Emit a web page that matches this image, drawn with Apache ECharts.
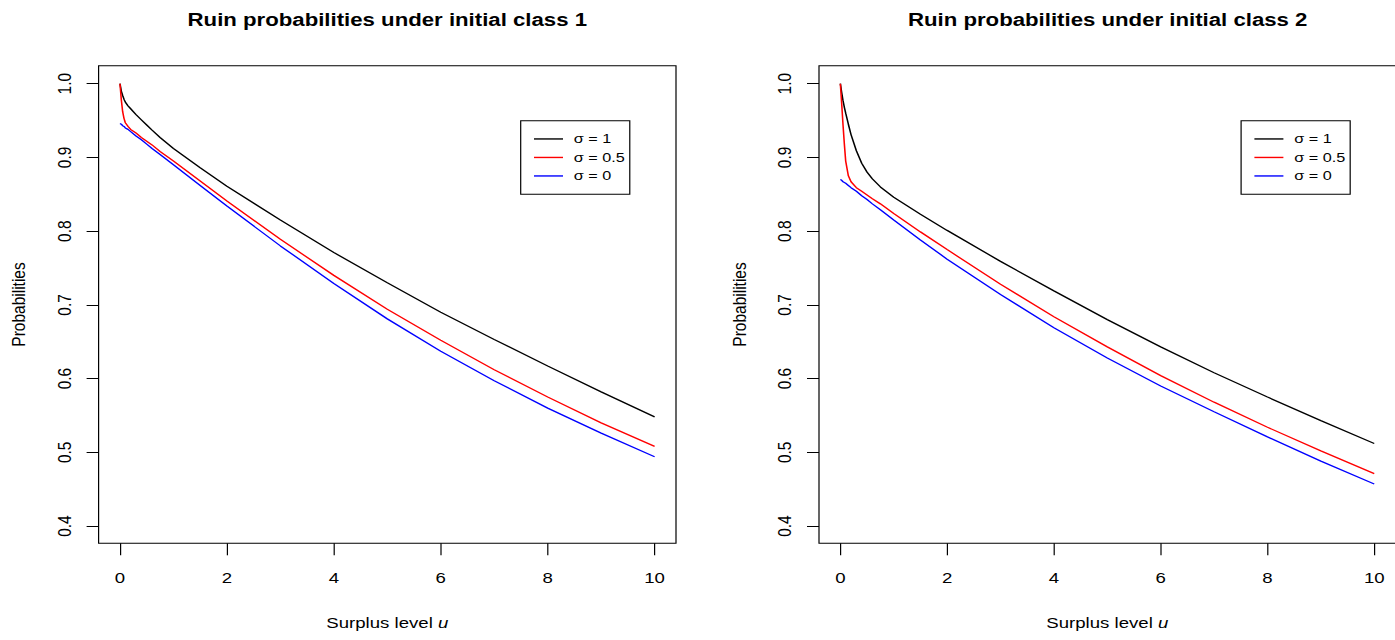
<!DOCTYPE html>
<html>
<head>
<meta charset="utf-8">
<script src="https://cdn.jsdelivr.net/npm/echarts@6/dist/echarts.min.js"></script>
<style>
  html, body { margin: 0; padding: 0; background: #fff; overflow: hidden; }
  #chart-container { height: 640px; transform-origin: 0 0; }
</style>
</head>
<body>
<div id="chart-container"></div>
<script>
// surplus levels u (shared by every curve)
var uGrid = [0, 0.025, 0.05, 0.075, 0.1, 0.15, 0.2, 0.3, 0.4, 0.5, 0.6, 0.75, 1, 1.5, 2, 3, 4, 5, 6, 7, 8, 9, 10];

// initial class 1
var class1Sigma1 = [1.000, 0.990, 0.984, 0.979, 0.975, 0.970, 0.966, 0.958, 0.951, 0.944, 0.937, 0.927, 0.912, 0.886, 0.861, 0.815, 0.771, 0.730, 0.690, 0.653, 0.617, 0.582, 0.548];
var class1Sigma05 = [1.000, 0.978, 0.962, 0.953, 0.947, 0.942, 0.938, 0.933, 0.927, 0.922, 0.917, 0.908, 0.895, 0.868, 0.841, 0.789, 0.740, 0.694, 0.652, 0.612, 0.575, 0.540, 0.508];
var class1Sigma0 = [0.946, 0.945, 0.943, 0.942, 0.940, 0.938, 0.935, 0.929, 0.924, 0.918, 0.912, 0.904, 0.890, 0.862, 0.834, 0.780, 0.729, 0.681, 0.637, 0.597, 0.560, 0.526, 0.494];

// initial class 2
var class2Sigma1 = [1.000, 0.988, 0.977, 0.968, 0.960, 0.945, 0.931, 0.909, 0.892, 0.880, 0.871, 0.860, 0.846, 0.823, 0.801, 0.759, 0.719, 0.680, 0.643, 0.608, 0.575, 0.543, 0.512];
var class2Sigma05 = [1.000, 0.973, 0.944, 0.918, 0.895, 0.875, 0.867, 0.859, 0.854, 0.849, 0.844, 0.837, 0.824, 0.799, 0.775, 0.728, 0.684, 0.643, 0.604, 0.568, 0.534, 0.502, 0.471];
var class2Sigma0 = [0.870, 0.869, 0.867, 0.866, 0.865, 0.862, 0.859, 0.854, 0.848, 0.843, 0.837, 0.829, 0.815, 0.788, 0.762, 0.714, 0.669, 0.628, 0.590, 0.555, 0.521, 0.488, 0.457];

var seriesNames = ['σ = 1', 'σ = 0.5', 'σ = 0'];
var seriesColors = ['#000000', '#ff0000', '#0000ff'];
var titles = ['Ruin probabilities under initial class 1', 'Ruin probabilities under initial class 2'];
var xTicks = [0, 2, 4, 6, 8, 10];
var yTicks = [0.4, 0.5, 0.6, 0.7, 0.8, 0.9, 1.0];

// the source picture is stretched sideways, so draw narrower and scale x
var SX = 1.2;
function px(x) { return x / SX; }

var dom = document.getElementById('chart-container');
dom.style.width = (1395 / SX) + 'px';
dom.style.transform = 'scaleX(' + SX + ')';

var myChart = echarts.init(dom, null, { renderer: 'svg' });
var FONT = '"Liberation Sans", Arial, Helvetica, sans-serif';

var panels = [
  { left: 98.6, curves: [class1Sigma1, class1Sigma05, class1Sigma0] },
  { left: 819, curves: [class2Sigma1, class2Sigma05, class2Sigma0] }
];
var plotW = 577.4;

function toPairs(vals) {
  return uGrid.map(function (u, i) { return [u, vals[i]]; });
}

var option = {
  animation: false,
  backgroundColor: '#fff',
  textStyle: { fontFamily: FONT },
  title: [],
  legend: [],
  grid: [],
  xAxis: [],
  yAxis: [],
  series: []
};

panels.forEach(function (p, k) {
  option.title.push({
    text: titles[k],
    left: px(p.left + plotW / 2),
    top: 10,
    padding: 0,
    textAlign: 'center',
    textStyle: { fontFamily: FONT, fontSize: 18.5, fontWeight: 'bold', color: '#000' }
  });
  option.grid.push({
    left: px(p.left), top: 65.7, width: px(plotW), height: 477.6,
    show: true, borderColor: '#000', borderWidth: 1, containLabel: false
  });
  option.legend.push({
    left: px(p.left + 422.1),
    top: 120.7,
    orient: 'vertical',
    data: seriesNames,
    icon: 'rect',
    itemWidth: px(29),
    itemHeight: 1.4,
    itemGap: 0,
    padding: [9, px(5), 9, px(13.3)],
    borderColor: '#000',
    borderWidth: 1,
    borderRadius: 0,
    selectedMode: false,
    textStyle: { fontFamily: FONT, fontSize: 13.5, color: '#000', lineHeight: 18.5, padding: [0, 0, 0, 4] }
  });
  option.xAxis.push({
    type: 'value',
    gridIndex: k,
    min: -0.4,
    max: 10.4,
    name: '{n|Surplus level }{i|u}',
    nameLocation: 'middle',
    nameGap: 72,
    nameTextStyle: {
      fontFamily: FONT, fontSize: 15.5, color: '#000',
      rich: {
        n: { fontFamily: FONT, fontSize: 15.5, color: '#000' },
        i: { fontFamily: FONT, fontSize: 15.5, color: '#000', fontStyle: 'italic' }
      }
    },
    axisLine: { show: false, onZero: false },
    axisTick: { show: true, inside: false, length: 12, customValues: xTicks, lineStyle: { color: '#000', width: 1 } },
    axisLabel: { customValues: xTicks, margin: 27, fontFamily: FONT, fontSize: 15.5, color: '#000' },
    splitLine: { show: false }
  });
  option.yAxis.push({
    type: 'value',
    gridIndex: k,
    min: 0.3766,
    max: 1.0244,
    name: 'Probabilities',
    nameLocation: 'middle',
    nameGap: 58,
    nameTextStyle: { fontFamily: FONT, fontSize: 15.5, color: '#000' },
    axisLine: { show: false, onZero: false },
    axisTick: { show: true, inside: false, length: px(12), customValues: yTicks, lineStyle: { color: '#000', width: 1 } },
    axisLabel: {
      customValues: yTicks, rotate: 90, margin: 20,
      fontFamily: FONT, fontSize: 15.5, color: '#000',
      formatter: function (v) { return v.toFixed(1); }
    },
    splitLine: { show: false }
  });
  p.curves.forEach(function (vals, j) {
    option.series.push({
      name: seriesNames[j],
      type: 'line',
      xAxisIndex: k,
      yAxisIndex: k,
      data: toPairs(vals),
      showSymbol: false,
      smooth: false,
      color: seriesColors[j],
      lineStyle: { color: seriesColors[j], width: 1.3 }
    });
  });
});

myChart.setOption(option);
window.addEventListener('resize', myChart.resize);
</script>
</body>
</html>
